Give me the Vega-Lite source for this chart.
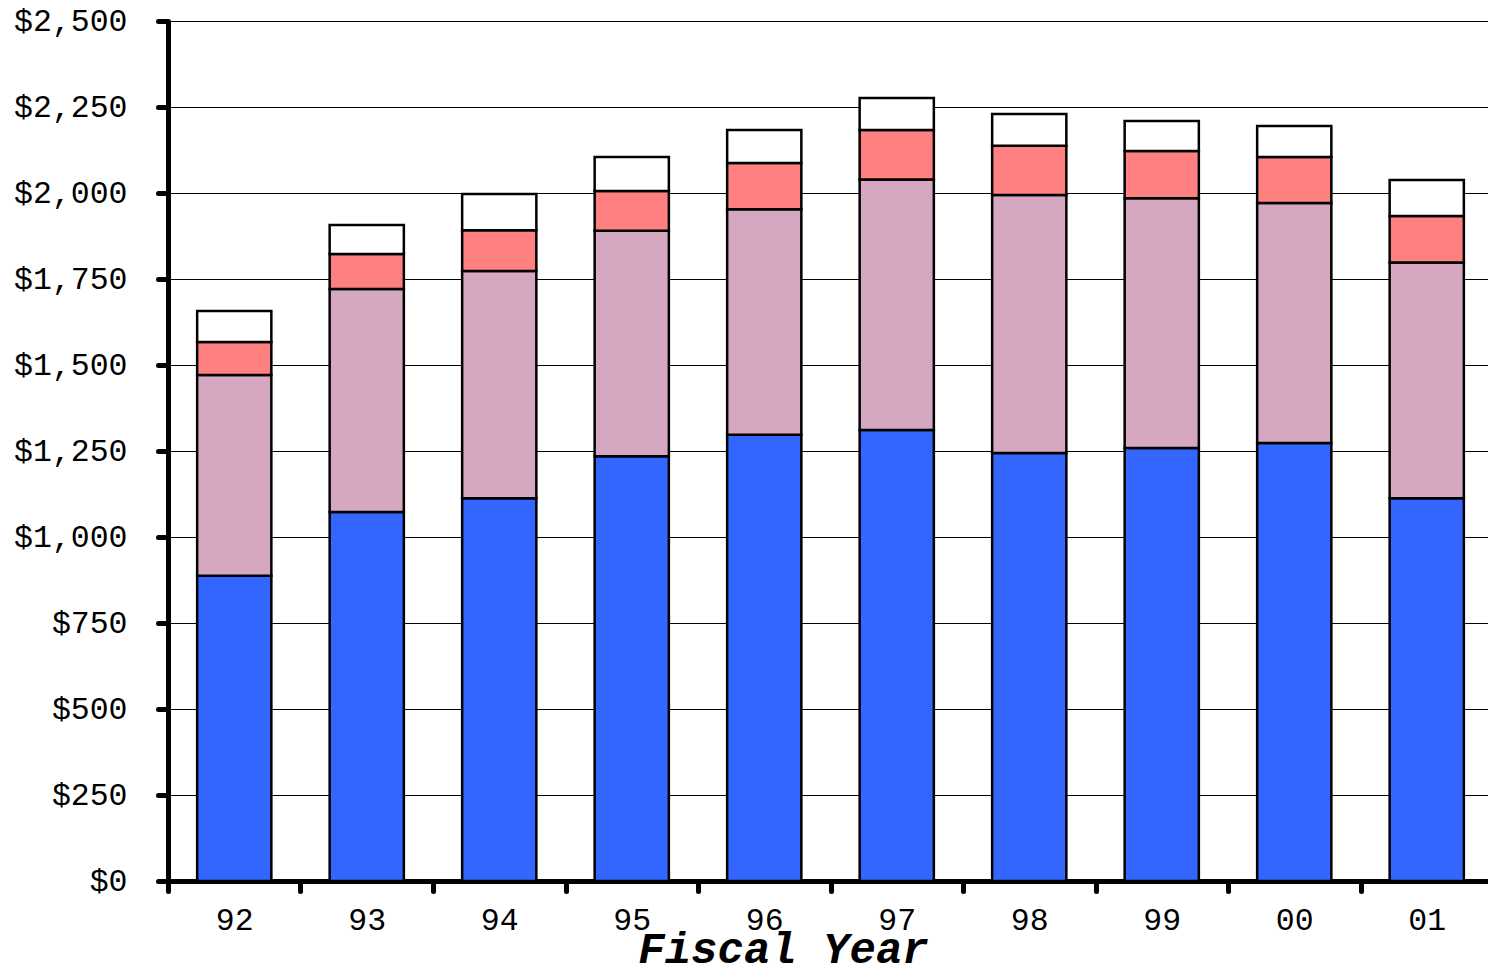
{
  "$schema": "https://vega.github.io/schema/vega-lite/v6.json",
  "autosize": {"type": "none"},
  "padding": {"left": 168, "top": 21, "right": 0, "bottom": 90},
  "width": 1325,
  "height": 860,
  "background": "white",
  "config": {
    "view": {"stroke": null},
    "axis": {"labelFont": "Liberation Mono", "labelColor": "black", "titleColor": "black"}
  },
  "data": {
    "values": [
      {"year": "92", "part": "a", "ord": 1, "amount": 887},
      {"year": "92", "part": "b", "ord": 2, "amount": 584},
      {"year": "92", "part": "c", "ord": 3, "amount": 96},
      {"year": "92", "part": "d", "ord": 4, "amount": 90},
      {"year": "93", "part": "a", "ord": 1, "amount": 1073},
      {"year": "93", "part": "b", "ord": 2, "amount": 648},
      {"year": "93", "part": "c", "ord": 3, "amount": 102},
      {"year": "93", "part": "d", "ord": 4, "amount": 84},
      {"year": "94", "part": "a", "ord": 1, "amount": 1113},
      {"year": "94", "part": "b", "ord": 2, "amount": 660},
      {"year": "94", "part": "c", "ord": 3, "amount": 119},
      {"year": "94", "part": "d", "ord": 4, "amount": 105},
      {"year": "95", "part": "a", "ord": 1, "amount": 1235},
      {"year": "95", "part": "b", "ord": 2, "amount": 655},
      {"year": "95", "part": "c", "ord": 3, "amount": 116},
      {"year": "95", "part": "d", "ord": 4, "amount": 99},
      {"year": "96", "part": "a", "ord": 1, "amount": 1297},
      {"year": "96", "part": "b", "ord": 2, "amount": 656},
      {"year": "96", "part": "c", "ord": 3, "amount": 134},
      {"year": "96", "part": "d", "ord": 4, "amount": 96},
      {"year": "97", "part": "a", "ord": 1, "amount": 1311},
      {"year": "97", "part": "b", "ord": 2, "amount": 728},
      {"year": "97", "part": "c", "ord": 3, "amount": 144},
      {"year": "97", "part": "d", "ord": 4, "amount": 93},
      {"year": "98", "part": "a", "ord": 1, "amount": 1244},
      {"year": "98", "part": "b", "ord": 2, "amount": 750},
      {"year": "98", "part": "c", "ord": 3, "amount": 143},
      {"year": "98", "part": "d", "ord": 4, "amount": 93},
      {"year": "99", "part": "a", "ord": 1, "amount": 1259},
      {"year": "99", "part": "b", "ord": 2, "amount": 726},
      {"year": "99", "part": "c", "ord": 3, "amount": 137},
      {"year": "99", "part": "d", "ord": 4, "amount": 87},
      {"year": "00", "part": "a", "ord": 1, "amount": 1273},
      {"year": "00", "part": "b", "ord": 2, "amount": 698},
      {"year": "00", "part": "c", "ord": 3, "amount": 134},
      {"year": "00", "part": "d", "ord": 4, "amount": 90},
      {"year": "01", "part": "a", "ord": 1, "amount": 1113},
      {"year": "01", "part": "b", "ord": 2, "amount": 685},
      {"year": "01", "part": "c", "ord": 3, "amount": 135},
      {"year": "01", "part": "d", "ord": 4, "amount": 105}
    ]
  },
  "mark": {"type": "bar", "stroke": "black", "strokeWidth": 2.5},
  "encoding": {
    "x": {
      "field": "year",
      "type": "nominal",
      "sort": ["92", "93", "94", "95", "96", "97", "98", "99", "00", "01"],
      "scale": {"paddingInner": 0.44, "paddingOuter": 0.22},
      "axis": {
        "title": "Fiscal Year",
        "titleFont": "Liberation Mono",
        "titleFontSize": 44,
        "titleFontWeight": "bold",
        "titleFontStyle": "italic",
        "titleAlign": "center",
        "titleBaseline": "alphabetic",
        "titleX": 615,
        "titleY": 81,
        "labelAngle": 0,
        "labelFontSize": 31.5,
        "labelPadding": 13,
        "labelOffset": 66.25,
        "tickOffset": -66.25,
        "domainColor": "black",
        "domainWidth": 5,
        "tickColor": "black",
        "tickWidth": 5,
        "tickSize": 10,
        "tickCap": "round",
        "grid": false
      }
    },
    "y": {
      "field": "amount",
      "type": "quantitative",
      "stack": "zero",
      "scale": {"domain": [0, 2500], "nice": false},
      "axis": {
        "title": null,
        "values": [0, 250, 500, 750, 1000, 1250, 1500, 1750, 2000, 2250, 2500],
        "format": "$,d",
        "labelFontSize": 31.5,
        "labelPadding": 31,
        "domainColor": "black",
        "domainWidth": 5,
        "tickColor": "black",
        "tickWidth": 5,
        "tickSize": 10,
        "tickCap": "round",
        "grid": true,
        "gridColor": "black",
        "gridWidth": 1
      }
    },
    "color": {
      "field": "part",
      "type": "nominal",
      "scale": {"domain": ["a", "b", "c", "d"], "range": ["#3366ff", "#d6a7c1", "#ff8080", "#ffffff"]},
      "legend": null
    },
    "order": {"field": "ord", "type": "quantitative", "sort": "ascending"}
  }
}
